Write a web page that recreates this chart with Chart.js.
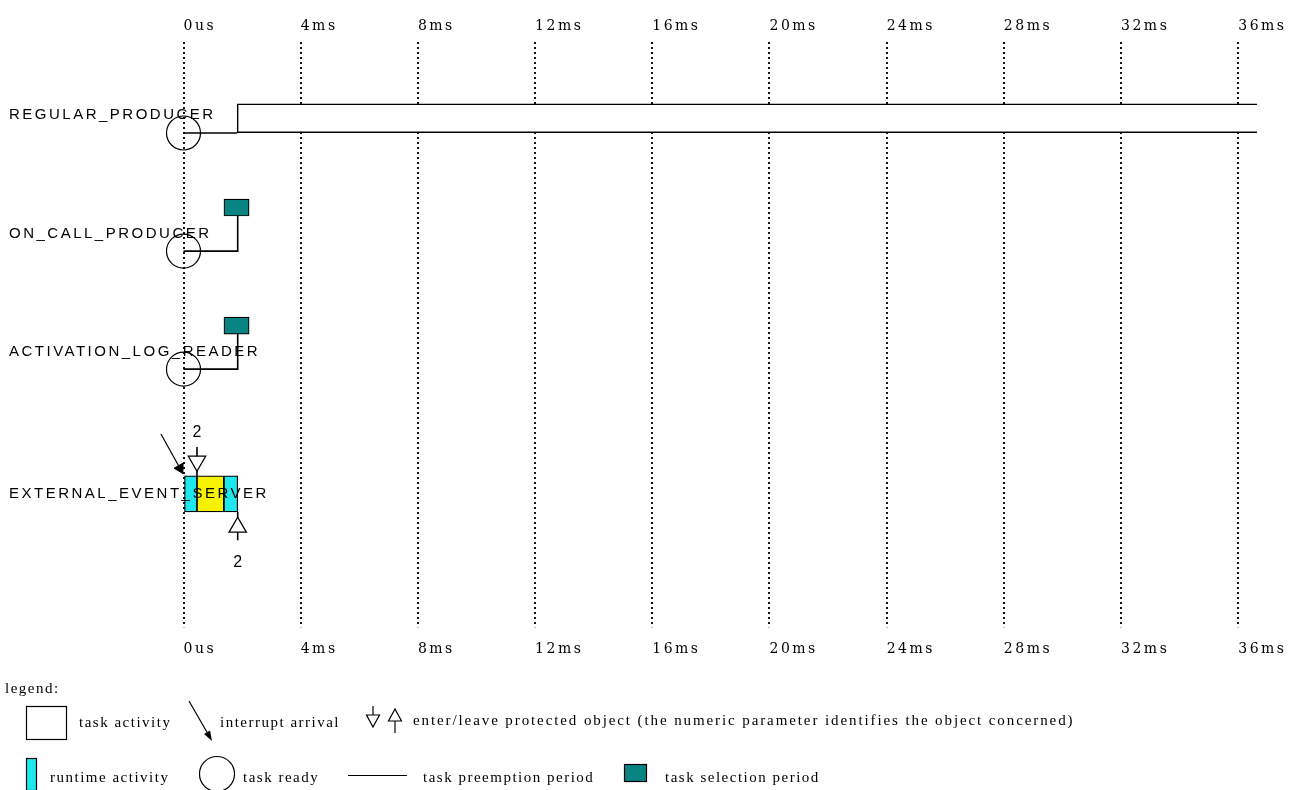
<!DOCTYPE html>
<html>
<head>
<meta charset="utf-8">
<script src="https://cdn.jsdelivr.net/npm/chart.js@4.4.1/dist/chart.umd.min.js"></script>
<style>
  html, body { margin: 0; padding: 0; background: #fff; }
  #wrap { position: relative; width: 1305px; height: 790px; overflow: hidden; }
  #timeline { position: absolute; left: 0; top: 0; }
  #shapes { position: absolute; left: 0; top: 0; pointer-events: none; }
  .lg { position: absolute; font: 15px "Liberation Serif", serif; letter-spacing: 1.5px;
        line-height: 18px; white-space: nowrap; color: #000; }
</style>
</head>
<body>
<div id="wrap">
  <canvas id="timeline" width="1305" height="680"></canvas>

  <!-- legend -->
  <svg id="shapes" width="1305" height="790">
    <rect x="26.5" y="706.5" width="40" height="33" fill="none" stroke="#000" stroke-width="1.2"/>
    <line x1="189" y1="701" x2="208" y2="734" stroke="#000" stroke-width="1.2"/>
    <polygon points="212,741 210,730.6 204,734.1" fill="#000"/>
    <line x1="373" y1="706" x2="373" y2="715" stroke="#000" stroke-width="1.2"/>
    <polygon points="366.5,715 379.5,715 373,727" fill="#fff" stroke="#000" stroke-width="1.2"/>
    <polygon points="395,709 388.5,721 401.5,721" fill="#fff" stroke="#000" stroke-width="1.2"/>
    <line x1="395" y1="721" x2="395" y2="733" stroke="#000" stroke-width="1.2"/>
    <rect x="26.5" y="758.5" width="10" height="32" fill="#1ee8ee" stroke="#000" stroke-width="1.2"/>
    <circle cx="217" cy="774" r="17.5" fill="none" stroke="#000" stroke-width="1.2"/>
    <line x1="348" y1="775.5" x2="407" y2="775.5" stroke="#000" stroke-width="1.2"/>
    <rect x="624.5" y="764.5" width="22" height="17" fill="#0a8383" stroke="#000" stroke-width="1.2"/>
  </svg>
  <div class="lg" style="left:5px;top:679px">legend:</div>
  <div class="lg" style="left:79px;top:713px">task activity</div>
  <div class="lg" style="left:220px;top:713px">interrupt arrival</div>
  <div class="lg" style="left:413px;top:711px;letter-spacing:1.9px">enter/leave protected object (the numeric parameter identifies the object concerned)</div>
  <div class="lg" style="left:50px;top:768px">runtime activity</div>
  <div class="lg" style="left:243px;top:768px">task ready</div>
  <div class="lg" style="left:423px;top:768px">task preemption period</div>
  <div class="lg" style="left:665px;top:768px">task selection period</div>
</div>

<script>
// tasks and their rows (row units, baseline of each row)
const tasks = ["REGULAR_PRODUCER", "ON_CALL_PRODUCER", "ACTIVATION_LOG_READER", "EXTERNAL_EVENT_SERVER"];
const rowBase = [1, 2, 3, 4.21];

// time axis (ms)
const timeTicks = [0, 4, 8, 12, 16, 20, 24, 28, 32, 36];
const tickLabels = ["0us", "4ms", "8ms", "12ms", "16ms", "20ms", "24ms", "28ms", "32ms", "36ms"];
const timeEnd = 36.64;

// REGULAR_PRODUCER
const regularActivity = [1.83, 36.64];
// ON_CALL_PRODUCER, ACTIVATION_LOG_READER
const selectionPeriods = [[1.38, 2.24], [1.38, 2.24]];
// ready instants for the first three tasks, and where preemption ends
const readyAt = [0, 0, 0];
const preemptEnd = [1.83, 1.85, 1.85];
// EXTERNAL_EVENT_SERVER
const runtimeActivity = [[0, 0.46], [1.38, 1.85]];
const serverActivity = [0.46, 1.38];
const interruptAt = 0;
const protEnter = [0.46];
const protLeave = [1.85];
const protIds = ["2"];

const BLACK = "#000";
const ext = rowBase[3];

function lineSet(points, extra) {
  return Object.assign({
    type: "line", indexAxis: "x", data: points, borderColor: BLACK, borderWidth: 1.6,
    pointRadius: 0, fill: false, clip: false, order: 3
  }, extra || {});
}

const datasets = [];

// task preemption lines (ready -> start)
for (let i = 0; i < 3; i++) {
  const b = rowBase[i];
  const pts = [{ x: readyAt[i], y: b }, { x: preemptEnd[i], y: b }];
  if (i > 0) pts.push({ x: preemptEnd[i], y: b - 0.297 });
  datasets.push(lineSet(pts));
}

// task ready circles
datasets.push({
  type: "line", indexAxis: "x", showLine: false, clip: false, order: 1,
  data: readyAt.map((t, i) => ({ x: t, y: rowBase[i] })),
  pointStyle: "circle", pointRadius: 17, pointBorderWidth: 1.2,
  pointBorderColor: BLACK, pointBackgroundColor: "rgba(0,0,0,0)"
});

// task activity (REGULAR_PRODUCER)
datasets.push({
  type: "bar", grouped: false, order: 2, barThickness: 29,
  data: [{ x: regularActivity, y: rowBase[0] - 0.125 }],
  backgroundColor: "#fff", borderColor: BLACK, borderWidth: 1.6, borderSkipped: "right"
});

// task selection periods
datasets.push({
  type: "bar", grouped: false, order: 2, barThickness: 17,
  data: selectionPeriods.map((p, i) => ({ x: p, y: rowBase[i + 1] - 0.369 })),
  backgroundColor: "#0a8383", borderColor: BLACK, borderWidth: 1.2, borderSkipped: false
});

// runtime activity
datasets.push({
  type: "bar", grouped: false, order: 2, barThickness: 36,
  data: runtimeActivity.map(p => ({ x: p, y: ext - 0.153 })),
  backgroundColor: "#1ee8ee", borderColor: BLACK, borderWidth: 1.2, borderSkipped: false
});

// server activity
datasets.push({
  type: "bar", grouped: false, order: 2, barThickness: 36,
  data: [{ x: serverActivity, y: ext - 0.153 }],
  backgroundColor: "#f7f200", borderColor: BLACK, borderWidth: 1.2, borderSkipped: false
});

// protected object stems
protEnter.forEach(t => datasets.push(lineSet([{ x: t, y: ext - 0.55 }, { x: t, y: ext - 0.305 }], { order: 1 })));
protLeave.forEach(t => datasets.push(lineSet([{ x: t, y: ext }, { x: t, y: ext + 0.24 }], { order: 1 })));

// enter / leave triangles
datasets.push({
  type: "line", indexAxis: "x", showLine: false, clip: false, order: 0,
  data: protEnter.map(t => ({ x: t, y: ext - 0.43 })).concat(protLeave.map(t => ({ x: t, y: ext + 0.129 }))),
  pointStyle: "triangle", pointRadius: 10,
  pointRotation: protEnter.map(() => 180).concat(protLeave.map(() => 0)),
  pointBorderWidth: 1.3, pointBorderColor: BLACK, pointBackgroundColor: "#fff"
});

// interrupt arrival arrow
datasets.push(lineSet([
  { x: interruptAt - 0.77, y: ext - 0.66 },
  { x: interruptAt - 0.12, y: ext - 0.37 }
], {
  order: 0, borderWidth: 1.2, pointRadius: [0, 6], pointStyle: "triangle",
  pointRotation: 151, pointBackgroundColor: BLACK, pointBorderColor: BLACK, pointBorderWidth: 1
}));

// numeric ids of protected objects
const notes = [];
protEnter.forEach((t, i) => notes.push({ text: protIds[i], x: t, y: ext - 0.676 }));
protLeave.forEach((t, i) => notes.push({ text: protIds[i], x: t, y: ext + 0.426 }));

const spacing = {
  id: "spacing",
  beforeUpdate(c) { c.ctx.letterSpacing = "2.5px"; },
  beforeLayout(c) { c.ctx.letterSpacing = "2.5px"; },
  beforeDraw(c) { c.ctx.letterSpacing = "2.5px"; }
};

const annot = {
  id: "annot",
  afterDatasetsDraw(chart) {
    const { ctx, scales } = chart;
    ctx.save();
    ctx.letterSpacing = "0px";
    ctx.font = '16px "Liberation Sans"';
    ctx.fillStyle = BLACK;
    ctx.textAlign = "center";
    ctx.textBaseline = "middle";
    notes.forEach(n => ctx.fillText(n.text, scales.x.getPixelForValue(n.x), scales.y.getPixelForValue(n.y)));
    ctx.restore();
  }
};

function keepTimeTicks(axis) {
  axis.ticks = timeTicks.map(v => ({ value: v }));
}

const timeTickOpts = {
  align: "start", autoSkip: false, maxRotation: 0, color: BLACK,
  font: { family: "DejaVu Serif", size: 14 },
  callback: v => tickLabels[timeTicks.indexOf(v)]
};

new Chart(document.getElementById("timeline"), {
  type: "bar",
  data: { datasets: datasets },
  options: {
    indexAxis: "y",
    responsive: false,
    animation: false,
    layout: { padding: { left: 9, right: 48, top: 10, bottom: 8 } },
    plugins: { legend: { display: false }, tooltip: { enabled: false } },
    scales: {
      x: {
        type: "linear", position: "top", min: 0, max: timeEnd, offset: false,
        afterBuildTicks: keepTimeTicks,
        grid: { color: "#111", lineWidth: 2, drawTicks: false },
        border: { display: false, dash: [2, 3] },
        ticks: Object.assign({ padding: 7.6 }, timeTickOpts)
      },
      x2: {
        type: "linear", axis: "x", position: "bottom", min: 0, max: timeEnd, offset: false,
        afterBuildTicks: keepTimeTicks,
        grid: { display: false, drawTicks: false },
        border: { display: false },
        ticks: Object.assign({ padding: 14 }, timeTickOpts)
      },
      y: {
        type: "linear", reverse: true, min: 0.229, max: 5.186, offset: false,
        grid: { display: false, drawTicks: false },
        border: { display: false },
        afterBuildTicks: axis => { axis.ticks = rowBase.map(b => ({ value: b - 0.15 })); },
        afterFit: axis => { axis.width = 174.5; },
        ticks: {
          mirror: true, crossAlign: "near", padding: -174.5, autoSkip: false, color: BLACK, z: 1,
          font: { family: "Liberation Sans", size: 15 },
          callback: (v, i) => tasks[i]
        }
      }
    }
  },
  plugins: [spacing, annot]
});
</script>
</body>
</html>
